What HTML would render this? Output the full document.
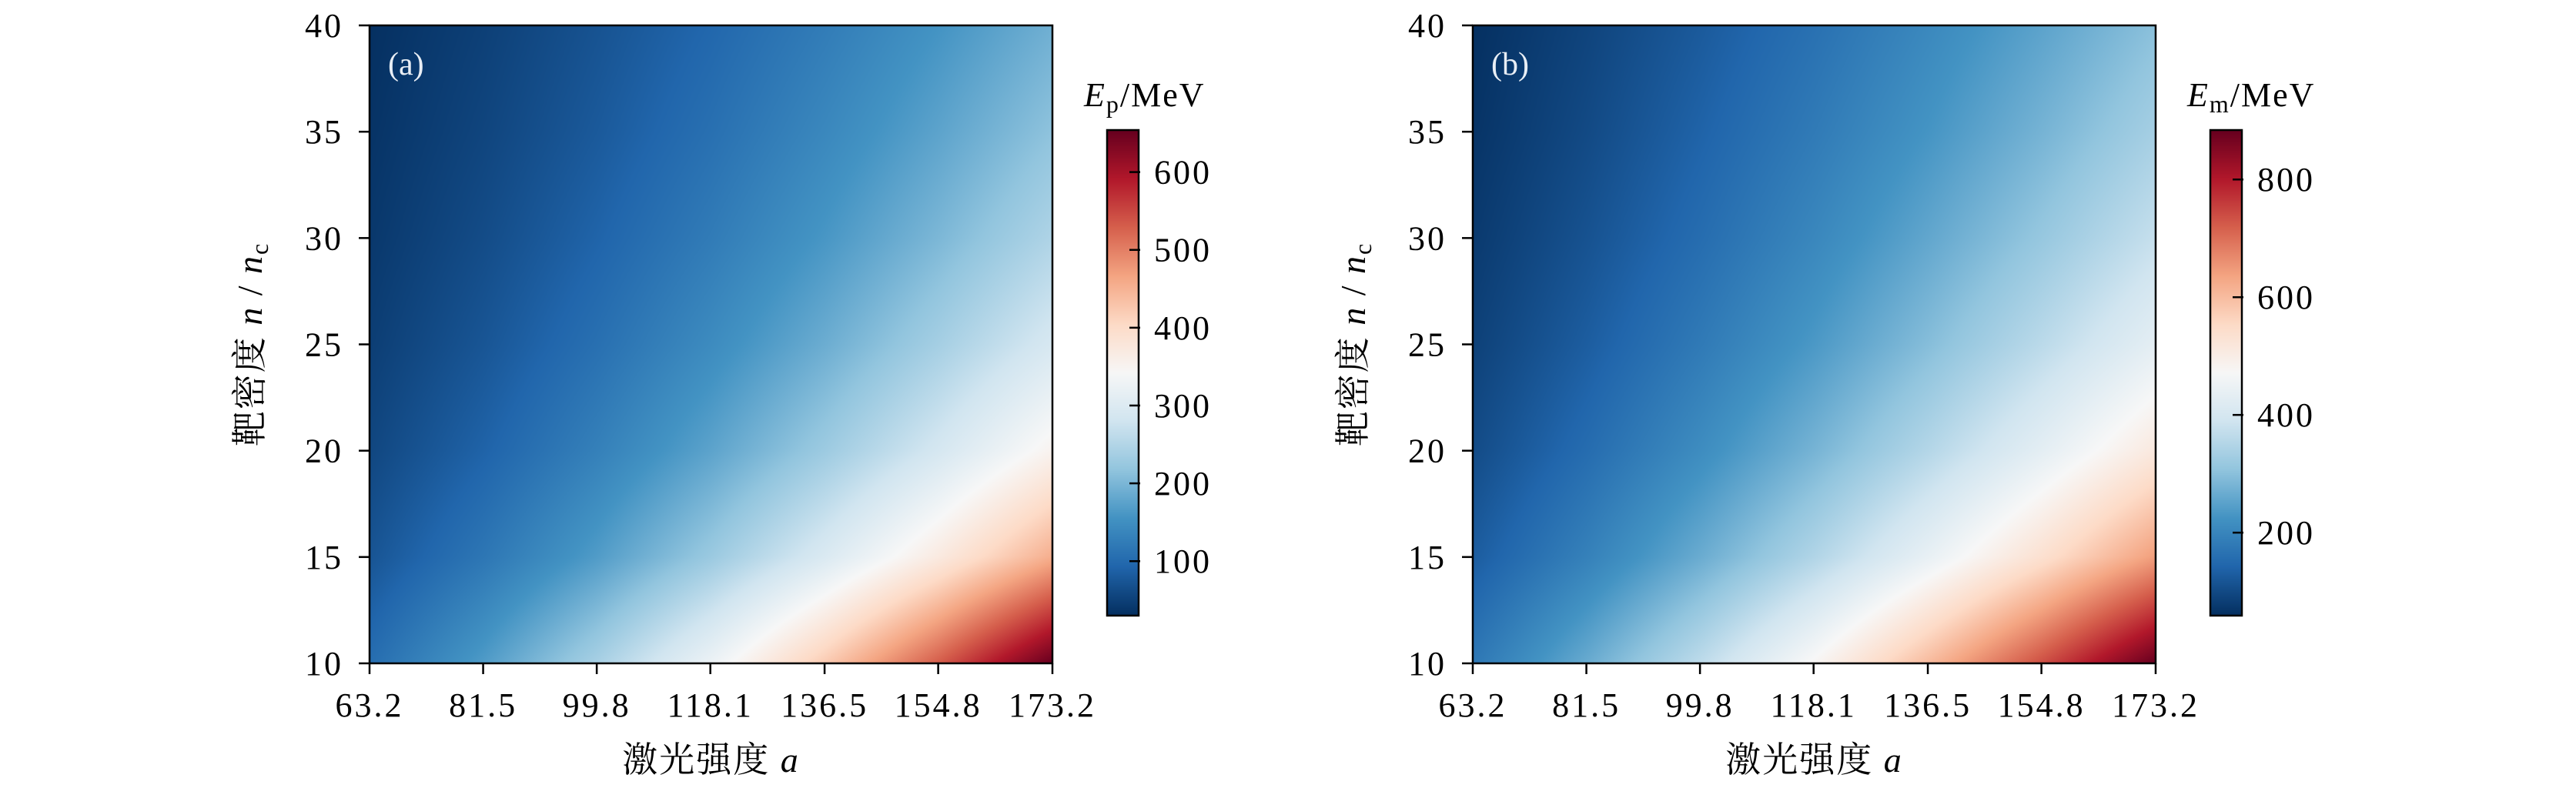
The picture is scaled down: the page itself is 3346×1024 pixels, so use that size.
<!DOCTYPE html>
<html><head><meta charset="utf-8">
<style>
html,body{margin:0;padding:0;background:#fff;}
#root{position:relative;width:3346px;height:1024px;overflow:hidden;background:#fff;}
canvas{position:absolute;}
svg{position:absolute;left:0;top:0;}
text{font-family:"Liberation Serif","Noto Serif CJK SC",serif;fill:#000;}
</style></head>
<body>
<div id="root">
<canvas id="cA"></canvas>
<canvas id="cB"></canvas>
<canvas id="cbA"></canvas>
<canvas id="cbB"></canvas>
<svg id="svg" width="3346" height="1024"></svg>
</div>
<script>
// ---- data ----
const xTickLabels = ["63.2","81.5","99.8","118.1","136.5","154.8","173.2"];
const yTickLabels = ["10","15","20","25","30","35","40"];
const laserA = [63.2,81.5,99.8,118.1,136.5,154.8,173.2];
const densityN = [10,15,20,25,30,35,40];
// Ep grid rows = densityN, cols = laserA
const energyP = [
 [103,165,239,324,423,532,654],
 [72,115,166,226,295,371,456],
 [56,89,129,175,228,287,353],
 [46,73,106,144,187,236,290],
 [39,62,90,122,159,200,246],
 [34,54,78,106,139,175,215],
 [30,48,70,94,123,155,190]
];
const energyM = [
 [174,263,364,477,603,738,884],
 [127,191,265,347,439,537,644],
 [101,153,212,278,351,430,514],
 [85,128,178,233,294,360,431],
 [74,111,154,202,256,313,375],
 [65,98,137,179,226,277,332],
 [59,89,123,161,204,250,299]
];
const cbTicksA = [100,200,300,400,500,600];
const cbTicksB = [200,400,600,800];
const rangeA = [30,654];
const rangeB = [59,884];

const RdBu = ["#053061","#2166ac","#4393c3","#92c5de","#d1e5f0","#f7f7f7","#fddbc7","#f4a582","#d6604d","#b2182b","#67001f"].map(h=>[parseInt(h.substr(1,2),16),parseInt(h.substr(3,2),16),parseInt(h.substr(5,2),16)]);
function cmap(t){t=Math.max(0,Math.min(1,t));const p=t*10;let i=Math.floor(p);if(i>=10)i=9;const f=p-i;const a=RdBu[i],b=RdBu[i+1];return [a[0]+(b[0]-a[0])*f,a[1]+(b[1]-a[1])*f,a[2]+(b[2]-a[2])*f];}

const svg=document.getElementById('svg');
const NS="http://www.w3.org/2000/svg";
function el(tag,attrs,parent){const e=document.createElementNS(NS,tag);for(const k in attrs)e.setAttribute(k,attrs[k]);(parent||svg).appendChild(e);return e;}

function panel(cfg){
  const L=cfg.L,T=33,W=887,H=829;
  const xs=v=>L+(v-laserA[0])/(laserA[laserA.length-1]-laserA[0])*W;
  const ys=v=>T+H-(v-densityN[0])/(densityN[densityN.length-1]-densityN[0])*H;
  const c=document.getElementById(cfg.canvas);
  c.width=W;c.height=H;c.style.left=L+'px';c.style.top=T+'px';
  const ctx=c.getContext('2d');const img=ctx.createImageData(W,H);
  const g=cfg.grid,[vmin,vmax]=cfg.range;
  const nx=laserA.length-1,ny=densityN.length-1;
  for(let py=0;py<H;py++){
    const fy=(H-1-py)/(H-1)*ny;let j=Math.min(Math.floor(fy),ny-1);const ty=fy-j;
    for(let px=0;px<W;px++){
      const fx=px/(W-1)*nx;let i=Math.min(Math.floor(fx),nx-1);const tx=fx-i;
      const v=(g[j][i]*(1-tx)+g[j][i+1]*tx)*(1-ty)+(g[j+1][i]*(1-tx)+g[j+1][i+1]*tx)*ty;
      const col=cmap((v-vmin)/(vmax-vmin));const k=(py*W+px)*4;
      img.data[k]=col[0];img.data[k+1]=col[1];img.data[k+2]=col[2];img.data[k+3]=255;
    }
  }
  ctx.putImageData(img,0,0);
  const fr=el('rect',{x:L,y:T,width:W,height:H,fill:'none',stroke:'#000','stroke-width':2.5});
  
  
  laserA.forEach((v,i)=>{
    const x=xs(v);
    const t=el('line',{x1:x,y1:T+H,x2:x,y2:T+H+14,stroke:'#000','stroke-width':2.5});
    
    
    const tx=el('text',{x:x,y:931,'font-size':44,'letter-spacing':3,'text-anchor':'middle'});tx.textContent=xTickLabels[i];
    
    
  });
  densityN.forEach((v,i)=>{
    const y=ys(v);
    const t=el('line',{x1:L-14,y1:y,x2:L,y2:y,stroke:'#000','stroke-width':2.5});
    
    
    const tx=el('text',{x:L-34,y:y+15,'font-size':44,'letter-spacing':3,'text-anchor':'end'});tx.textContent=yTickLabels[i];
    
    
  });
  const xl=el('text',{x:L+W/2,y:1003,'font-size':46,'letter-spacing':2,'text-anchor':'middle'});
  xl.innerHTML='激光强度 <tspan font-style="italic">a</tspan>';
  
  
  const yl=el('text',{x:0,y:0,'font-size':46,'letter-spacing':2,'text-anchor':'middle',transform:`translate(${L-140},${T+H/2}) rotate(-90)`});
  yl.innerHTML='靶密度 <tspan font-style="italic">n</tspan> / <tspan font-style="italic">n</tspan><tspan font-size="32" dy="8">c</tspan>';
  
  
  const pl=el('text',{x:L+24,y:97,'font-size':42,fill:'#fff'});pl.textContent=cfg.tag;
  pl.style.fill='#e8eef5';
  
  
  const CL=cfg.cbL,CT=169,CW=41,CH=631;
  const cb=document.getElementById(cfg.cb);cb.width=CW;cb.height=CH;cb.style.left=CL+'px';cb.style.top=CT+'px';
  const cctx=cb.getContext('2d');
  for(let y=0;y<CH;y++){const col=cmap(1-y/(CH-1));cctx.fillStyle=`rgb(${col[0]|0},${col[1]|0},${col[2]|0})`;cctx.fillRect(0,y,CW,1);}
  const cf=el('rect',{x:CL,y:CT,width:CW,height:CH,fill:'none',stroke:'#000','stroke-width':2.5});
  
  
  const cy=v=>CT+CH-(v-vmin)/(vmax-vmin)*CH;
  cfg.ticks.forEach(v=>{
    const y=cy(v);
    const t=el('line',{x1:CL+CW-12,y1:y,x2:CL+CW+2,y2:y,stroke:'#000','stroke-width':2.5});
    
    
    const tx=el('text',{x:CL+CW+20,y:y+15,'font-size':44,'letter-spacing':3});tx.textContent=String(v);
    
    
  });
  const ct=el('text',{x:CL-30,y:138,'font-size':44,'letter-spacing':2});
  ct.innerHTML='<tspan font-style="italic">E</tspan><tspan font-size="32" dy="8">'+cfg.sub+'</tspan><tspan dy="-8">/MeV</tspan>';
  
  
}
panel({id:'panel-a',L:480,canvas:'cA',cb:'cbA',cbL:1438,grid:energyP,range:rangeA,ticks:cbTicksA,tag:'(a)',sub:'p'});
panel({id:'panel-b',L:1913,canvas:'cB',cb:'cbB',cbL:2871,grid:energyM,range:rangeB,ticks:cbTicksB,tag:'(b)',sub:'m'});
</script>
</body></html>
